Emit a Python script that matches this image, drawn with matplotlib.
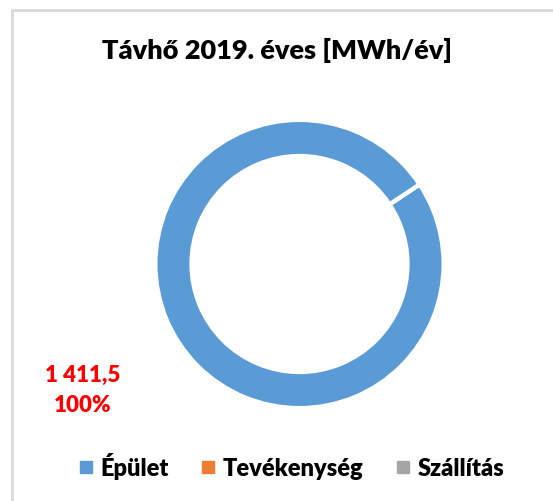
import numpy as np
import matplotlib.pyplot as plt
from matplotlib.patches import Rectangle

categories = ["Épület", "Tevékenység", "Szállítás"]
values = [1411.5, 0.0, 0.0]
colors = ["#5B9BD5", "#ED7D31", "#A5A5A5"]
title = "Távhő 2019. éves [MWh/év]"

plt.rcParams['font.family'] = ['Lato', 'DejaVu Sans']

fig = plt.figure(figsize=(5.53, 5.01), dpi=100)
fig.patches.append(Rectangle((12/553, -0.1), 1.2, 1.1 - 10/501, transform=fig.transFigure,
                             fill=False, edgecolor='#D9D9D9', linewidth=2))

# donut
ax = fig.add_axes([154/553, 1 - 410/501, 291/553, 292/501])
ax.pie(values, colors=colors, startangle=33.5, counterclock=False, radius=1.0,
       wedgeprops=dict(width=0.25, edgecolor='white', linewidth=3))
ax.set_xlim(-1.01, 1.01)
ax.set_ylim(-1.01, 1.01)
ax.set_aspect('equal')

fig.text(0.5, 1 - 50/501, title, ha='center', va='center', fontsize=19.5, fontweight='heavy')

total = sum(values)
fig.text(83/553, 1 - 375/501, f"{values[0]:,.1f}".replace(",", " ").replace(".", ","),
         ha='center', va='center', color='red', fontsize=16, fontweight='heavy')
fig.text(83/553, 1 - 406/501, f"{values[0] / total:.0%}",
         ha='center', va='center', color='red', fontsize=16, fontweight='heavy')

# legend
handles = [plt.Line2D([], [], marker='s', linestyle='', color=c, markersize=8) for c in colors]
fig.legend(handles, categories, loc='center', bbox_to_anchor=(0.525, 1 - 466/501),
           ncol=3, frameon=False, prop=dict(size=17, weight='heavy'),
           handletextpad=0.2, columnspacing=1.3, handlelength=0.8)

fig.savefig('out.png', dpi=100)
